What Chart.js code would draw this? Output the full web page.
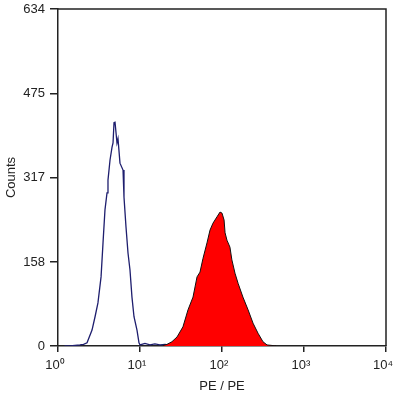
<!DOCTYPE html>
<html>
<head>
<meta charset="utf-8">
<script src="https://cdn.jsdelivr.net/npm/chart.js@4"></script>
<style>
  html, body { margin: 0; padding: 0; background: #fff; }
  #wrap { width: 394px; height: 400px; position: relative; }
</style>
</head>
<body>
<div id="wrap"><canvas id="c" width="394" height="400"></canvas></div>
<script>
// Control (isotype) histogram: fluorescence channel values and counts
const controlX = [1.2, 1.4, 1.61, 1.85, 2.05, 2.26, 2.6, 2.83, 3.07, 3.35, 3.54, 3.74, 3.96, 4.07, 4.31, 4.56, 4.69, 4.82, 4.96, 5.24, 5.39, 5.7, 6.21, 6.38, 6.75, 7.14, 7.55, 7.98, 8.45, 9.19, 9.72, 10.0, 11.5, 13.2, 15.2, 17.5, 20.2, 23.2];
const controlY = [0, 0, 1, 2, 3, 6, 30, 55, 81, 130, 194, 256, 288, 312, 350, 374, 382, 420, 421, 382, 390, 344, 331, 280, 224, 175, 143, 92, 55, 30, 6, 2, 5, 2, 4, 2, 3, 1];

// Stained sample histogram
const sampleX = [19.1, 21.3, 24.5, 28.3, 33.4, 38.5, 44.3, 49.6, 53.9, 58.7, 65.6, 71.4, 77.6, 86.9, 94.6, 100, 106, 109, 115, 125, 132, 144, 157, 180, 208, 239, 275, 316, 354, 407, 456];
const sampleY = [1, 3, 8, 17, 36, 68, 92, 130, 139, 165, 194, 218, 231, 243, 252, 250, 237, 213, 199, 186, 162, 137, 118, 92, 68, 43, 24, 8, 2, 1, 0];

const xTickValues = [1, 10, 100, 1000, 10000];
const xTickLabels = ['10\u2070', '10\u00B9', '10\u00B2', '10\u00B3', '10\u2074'];
const yTickValues = [0, 158, 317, 475, 634];
const yTickLabels = ['0', '158', '317', '475', '634'];

const toPoints = (xs, ys) => xs.map((x, i) => ({ x: x, y: ys[i] }));

const boxPlugin = {
  id: 'box',
  afterDatasetsDraw(chart) {
    const { ctx, chartArea: a } = chart;
    ctx.save();
    ctx.strokeStyle = '#222';
    ctx.lineWidth = 1.5;
    ctx.beginPath();
    ctx.moveTo(a.left, a.top);
    ctx.lineTo(a.right, a.top);
    ctx.lineTo(a.right, a.bottom);
    ctx.stroke();
    ctx.restore();
  }
};

const font = { family: '"Liberation Sans", Arial, sans-serif', size: 13 };

new Chart(document.getElementById('c'), {
  type: 'line',
  data: {
    datasets: [
      {
        label: 'Sample',
        data: toPoints(sampleX, sampleY),
        borderColor: '#111',
        borderWidth: 1,
        backgroundColor: '#ff0000',
        fill: 'origin',
        pointRadius: 0
      },
      {
        label: 'Control',
        data: toPoints(controlX, controlY),
        borderColor: '#1e1e6e',
        borderWidth: 1.3,
        fill: false,
        pointRadius: 0
      }
    ]
  },
  options: {
    responsive: false,
    animation: false,
    layout: { padding: { top: 9, right: 8, left: 0, bottom: 0 } },
    plugins: { legend: { display: false }, tooltip: { enabled: false } },
    scales: {
      x: {
        type: 'logarithmic',
        min: 1,
        max: 10000,
        afterBuildTicks: (s) => { s.ticks = xTickValues.map(v => ({ value: v })); },
        afterFit: (s) => { s.height = 54; s.paddingLeft = 0; s.paddingRight = 0; },
        ticks: {
          autoSkip: false,
          maxRotation: 0,
          padding: 6,
          labelOffset: -3,
          color: '#222',
          font: font,
          callback: (v) => { const i = xTickValues.indexOf(v); return i >= 0 ? xTickLabels[i] : ''; }
        },
        grid: { drawOnChartArea: false, drawTicks: true, tickLength: 6, color: '#222', lineWidth: 1.5 },
        border: { display: true, color: '#222', width: 1.5 },
        title: { display: true, text: 'PE / PE', color: '#222', font: font, padding: { top: 2, bottom: 6 } }
      },
      y: {
        type: 'linear',
        min: 0,
        max: 634,
        afterBuildTicks: (s) => { s.ticks = yTickValues.map(v => ({ value: v })); },
        afterFit: (s) => { s.width = 58; s.paddingTop = 0; s.paddingBottom = 0; },
        ticks: {
          autoSkip: false,
          padding: 5,
          color: '#222',
          font: font,
          callback: (v) => { const i = yTickValues.indexOf(v); return i >= 0 ? yTickLabels[i] : ''; }
        },
        grid: { drawOnChartArea: false, drawTicks: true, tickLength: 8, color: '#222', lineWidth: 1.5 },
        border: { display: true, color: '#222', width: 1.5 },
        title: { display: true, text: 'Counts', color: '#222', font: font, padding: { top: 4, bottom: 4 } }
      }
    }
  },
  plugins: [boxPlugin]
});
</script>
</body>
</html>
